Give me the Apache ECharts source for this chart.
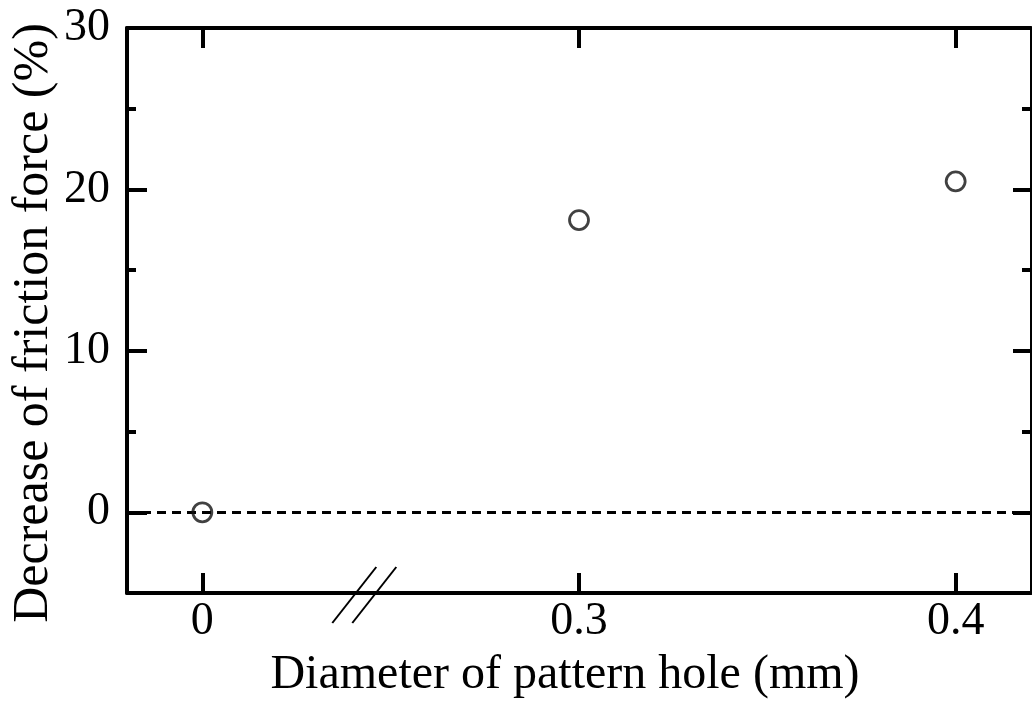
<!DOCTYPE html>
<html>
<head>
<meta charset="utf-8">
<script src="https://cdn.jsdelivr.net/npm/echarts@6/dist/echarts.min.js"></script>
<style>
  html, body { margin: 0; padding: 0; background: #fff; }
  #main { width: 1032px; height: 704px; }
</style>
</head>
<body>
<div id="main"></div>
<script>
// x categories (broken axis: each one sits at its own slot)
var diameters = ['0', '0.3', '0.4'];
var decrease = [0, 18.1, 20.5];
var yMajor = [0, 10, 20, 30];
var yMinor = [5, 15, 25];

var FONT = '"Liberation Serif", "DejaVu Serif", serif';
var slots = diameters.map(function (d, i) { return i; });
var points = decrease.map(function (v, i) { return [i, v]; });

var chart = echarts.init(document.getElementById('main'));

function yAx(pos, ticks, len, lineW, withLabel) {
  return {
    type: 'value', position: pos, min: -5, max: 30, interval: 5,
    splitLine: { show: false },
    axisLine: { show: lineW > 0, onZero: false, lineStyle: { color: '#000', width: lineW } },
    axisTick: { show: true, inside: true, length: len, customValues: ticks,
      lineStyle: { color: '#000', width: 4 } },
    axisLabel: { show: withLabel, customValues: yMajor, margin: 17,
      fontFamily: FONT, fontSize: 46, color: '#000' }
  };
}

function xAx(pos) {
  return {
    type: 'value', position: pos, min: -0.2, max: 2.2,
    splitLine: { show: false },
    axisLine: { onZero: false, lineStyle: { color: '#000', width: 4 } },
    axisTick: { inside: true, length: 20, customValues: slots, lineStyle: { color: '#000', width: 4 } },
    axisLabel: { show: pos === 'bottom', customValues: slots, margin: 6, fontFamily: FONT, fontSize: 46, color: '#000',
      formatter: function (v) { return diameters[Math.round(v)]; } }
  };
}

var option = {
  animation: false,
  backgroundColor: '#fff',
  grid: { left: 127, right: 1, top: 28, bottom: 111, outerBoundsMode: 'none', containLabel: false },
  xAxis: [
    Object.assign(xAx('bottom'), {
      name: 'Diameter of pattern hole (mm)', nameLocation: 'middle', nameGap: 58, nameMoveOverlap: false,
      nameTextStyle: { fontFamily: FONT, fontSize: 48, color: '#000', padding: [0, 28, 0, 0] }
    }),
    xAx('top')
  ],
  yAxis: [
    Object.assign(yAx('left', yMajor, 20, 4, true), {
      name: 'Decrease of friction force (%)', nameLocation: 'middle', nameGap: 68, nameMoveOverlap: false,
      nameTextStyle: { fontFamily: FONT, fontSize: 50, color: '#000', padding: [0, 25, 0, 0] }
    }),
    yAx('left', yMinor, 9, 0, false),
    yAx('right', yMajor, 18, 2, false),
    yAx('right', yMinor, 9, 0, false)
  ],
  series: [{
    type: 'scatter',
    data: points,
    symbol: 'circle',
    symbolSize: 19,
    itemStyle: { color: 'rgba(255,255,255,0)', borderColor: '#111', borderWidth: 2.8 },
    emphasis: { disabled: true },
    markLine: {
      silent: true, symbol: 'none', label: { show: false },
      lineStyle: { color: '#000', type: [9, 6], width: 3 },
      data: [{ yAxis: 0 }]
    },
    z: 5
  }]
};
chart.setOption(option);

// axis break marks between 0 and 0.3
var p = chart.convertToPixel({ gridIndex: 0 }, [0.43, -5]);
var breaks = [-10, 10].map(function (dx) {
  return {
    type: 'line', z: 100,
    shape: { x1: p[0] + dx - 22, y1: p[1] + 30, x2: p[0] + dx + 22, y2: p[1] - 26 },
    style: { stroke: '#000', lineWidth: 2 }
  };
});
chart.setOption({ graphic: breaks });
</script>
</body>
</html>
